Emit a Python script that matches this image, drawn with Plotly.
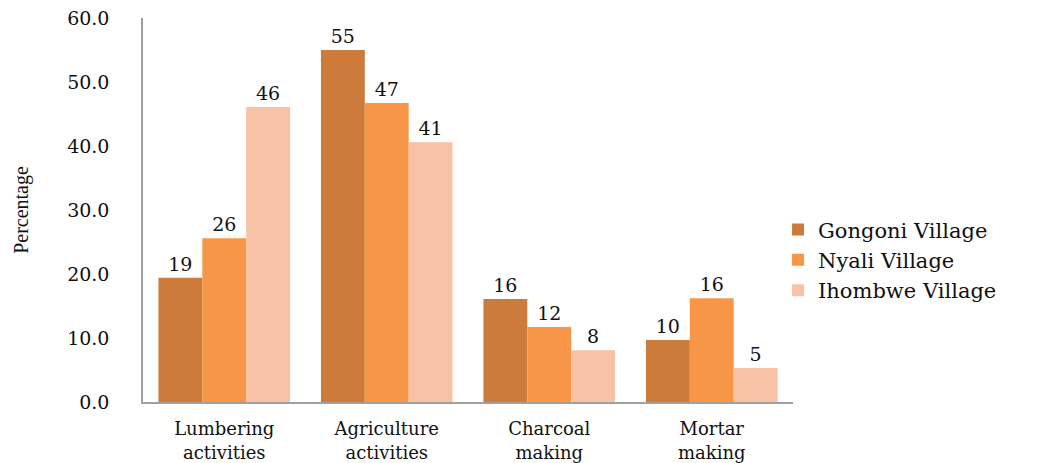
import plotly.graph_objects as go

categories = ["Lumbering<br>activities", "Agriculture<br>activities", "Charcoal<br>making", "Mortar<br>making"]
series_names = ["Gongoni Village", "Nyali Village", "Ihombwe Village"]
gongoni = [19.4, 55.0, 16.1, 9.7]
nyali = [25.6, 46.7, 11.7, 16.2]
ihombwe = [46.1, 40.6, 8.1, 5.3]
gongoni_labels = ["19", "55", "16", "10"]
nyali_labels = ["26", "47", "12", "16"]
ihombwe_labels = ["46", "41", "8", "5"]
y_ticks = [0, 10, 20, 30, 40, 50, 60]

colors = ["#CC7B3A", "#F79646", "#F9C1A5"]
serif = "DejaVu Serif"

fig = go.Figure()
for name, vals, labels, col in zip(series_names, [gongoni, nyali, ihombwe],
                                   [gongoni_labels, nyali_labels, ihombwe_labels], colors):
    fig.add_trace(go.Bar(
        x=categories, y=vals, name=name, marker=dict(color=col, line=dict(width=0)),
        text=labels, textposition="outside", cliponaxis=False,
        textfont=dict(family=serif, size=19, color="#111111"),
    ))

fig.update_layout(
    width=1054, height=463, autosize=False,
    margin=dict(l=143, r=261, t=18, b=61, autoexpand=False),
    paper_bgcolor="white", plot_bgcolor="white",
    barmode="group", bargap=0.19, bargroupgap=0,
    legend=dict(x=0.977, y=0.37, xanchor="left", yanchor="middle",
                font=dict(family=serif, size=21, color="#111111"),
                itemwidth=30, tracegroupgap=0, bgcolor="rgba(0,0,0,0)"),
    xaxis=dict(showline=True, linecolor="#A0A0A0", linewidth=1.5, ticks="", automargin=False,
               tickfont=dict(family=serif, size=18, color="#111111"),
               ticklabelstandoff=10, showgrid=False, zeroline=False),
    yaxis=dict(range=[0, 60], tickvals=y_ticks, tickformat=".1f", showline=True, automargin=False,
               linecolor="#A0A0A0", linewidth=1.5, ticks="", showgrid=False, zeroline=False,
               tickfont=dict(family=serif, size=19, color="#111111"),
               ticklabelstandoff=28,
               title=dict(text="Percentage", standoff=33,
                          font=dict(family="Liberation Serif", size=20, color="#111111"))),
)

fig.write_html("out.html")
